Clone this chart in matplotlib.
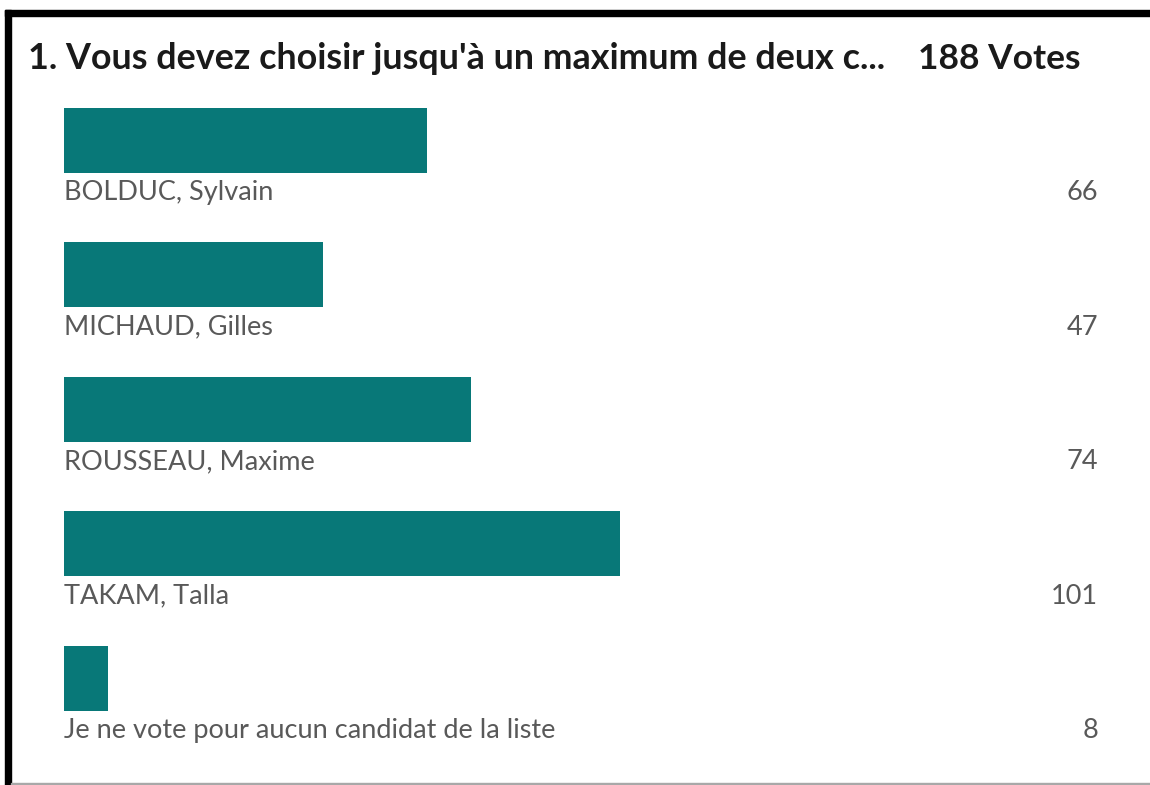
import matplotlib
matplotlib.use("Agg")
import matplotlib.pyplot as plt
from matplotlib.patches import Rectangle

# poll results
candidates = [
    "BOLDUC, Sylvain",
    "MICHAUD, Gilles",
    "ROUSSEAU, Maxime",
    "TAKAM, Talla",
    "Je ne vote pour aucun candidat de la liste",
]
votes = [66, 47, 74, 101, 8]
total_votes = 188
question = "1. Vous devez choisir jusqu'à un maximum de deux c..."

W, H = 1150, 785
BAR_COLOR = "#087878"

plt.rcParams["font.family"] = ["Lato", "DejaVu Sans"]

fig = plt.figure(figsize=(W / 100, H / 100), dpi=100)
fig.patch.set_facecolor("white")

# pixel layout helpers
first_center = 140.0
step = 134.6
top_px, bot_px = 80.0, 760.0
ax = fig.add_axes([64 / W, 1 - bot_px / H, 1034 / W, (bot_px - top_px) / H])
ax.set_xlim(0, total_votes)
ax.set_ylim((bot_px - first_center) / step, (top_px - first_center) / step)
ax.axis("off")

ypos = list(range(len(candidates)))
ax.barh(ypos, votes, height=65 / step, color=BAR_COLOR, align="center")

label_off = (200 - first_center) / step
for i, (name, v) in enumerate(zip(candidates, votes)):
    ax.text(0, i + label_off, name, ha="left", va="baseline",
            fontsize=19.5, color="#595959")
    ax.text(total_votes, i + label_off, str(v), ha="right", va="baseline",
            fontsize=19.5, color="#595959")

# title line
fig.text(28 / W, 1 - 69 / H, question, ha="left", va="baseline",
         fontsize=25.8, fontweight="bold", color="#1a1a1a")
fig.text(918 / W, 1 - 69 / H, f"{total_votes} Votes", ha="left", va="baseline",
         fontsize=25.5, fontweight="bold", color="#1a1a1a")

# frame around the screenshot
fig.patches.append(Rectangle((5 / W, 1 - 16 / H), 1145 / W, 6 / H,
                             transform=fig.transFigure, color="black"))
fig.patches.append(Rectangle((5 / W, 0), 6 / W, 1 - 10 / H,
                             transform=fig.transFigure, color="black"))
fig.patches.append(Rectangle((11 / W, 0), 1 - 11 / W, 2 / H,
                             transform=fig.transFigure, color="#a8a8a8"))

fig.savefig("out.png", dpi=100)
